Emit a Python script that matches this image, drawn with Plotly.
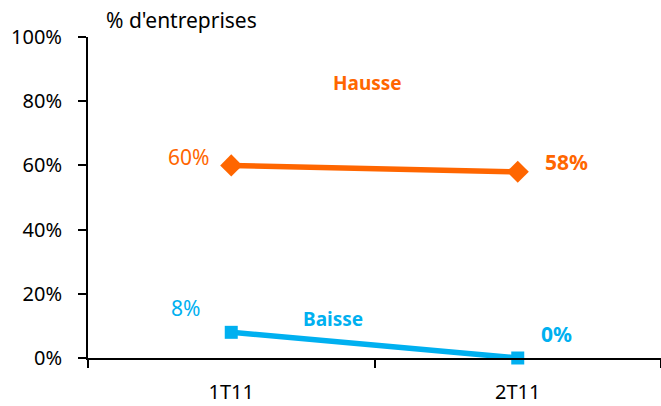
import plotly.graph_objects as go

# données
trimestres = ["1T11", "2T11"]
hausse = [60, 58]
baisse = [8, 0]
y_ticks = [0, 20, 40, 60, 80, 100]

orange = "#FF6600"
bleu = "#00B0F0"
police = "Noto Sans"

fig = go.Figure()

fig.add_trace(go.Scatter(
    x=trimestres, y=hausse, mode="lines+markers",
    line=dict(color=orange, width=5.5),
    marker=dict(symbol="diamond", size=17, color=orange),
    cliponaxis=False, showlegend=False,
))
fig.add_trace(go.Scatter(
    x=trimestres, y=baisse, mode="lines+markers",
    line=dict(color=bleu, width=5.5),
    marker=dict(symbol="square", size=13, color=bleu),
    cliponaxis=False, showlegend=False,
))

# étiquettes de valeurs
labels = [
    (0, hausse[0], "60%", orange, False, -43, 8),
    (1, hausse[1], "58%", orange, True, 49, 10),
    (0, baisse[0], "8%", bleu, False, -46, 24),
    (1, baisse[1], "0%", bleu, True, 39, 24),
]
for xi, yv, txt, col, bold, dx, dy in labels:
    fig.add_annotation(
        x=xi, y=yv, xref="x", yref="y", showarrow=False,
        text=f"<b>{txt}</b>" if bold else txt,
        font=dict(color=col, size=21, family=police),
        xshift=dx, yshift=dy,
    )

fig.add_annotation(x=0.477, y=85.7, xref="x", yref="y", showarrow=False,
                   text="<b>Hausse</b>", font=dict(color=orange, size=19, family=police))
fig.add_annotation(x=0.355, y=12.1, xref="x", yref="y", showarrow=False,
                   text="<b>Baisse</b>", font=dict(color=bleu, size=19, family=police))
fig.add_annotation(x=0.028, y=1, xref="paper", yref="paper", showarrow=False,
                   xanchor="left", yanchor="bottom", yshift=1,
                   text="% d'entreprises", font=dict(color="black", size=21, family=police))

fig.update_layout(
    width=661, height=406,
    margin=dict(l=88, r=0, t=37, b=48, autoexpand=False),
    plot_bgcolor="white", paper_bgcolor="white",
    font=dict(family=police, size=20, color="black"),
    xaxis=dict(
        type="category", range=[-0.5, 1.5], automargin=False,
        tickson="boundaries", ticks="outside", ticklen=8, tickwidth=2,
        tickcolor="black", showline=True, linecolor="black", linewidth=2,
        showgrid=False, zeroline=False, ticklabelstandoff=15,
    ),
    yaxis=dict(
        range=[0, 100], tickvals=y_ticks, automargin=False,
        ticktext=[f"{v}%" for v in y_ticks],
        ticks="outside", ticklen=8, tickwidth=2, tickcolor="black",
        showline=True, linecolor="black", linewidth=2,
        showgrid=False, zeroline=False, ticklabelstandoff=12,
    ),
)

fig.write_html("out.html", config={"displayModeBar": False},
               post_script="document.body.style.margin='0';")
